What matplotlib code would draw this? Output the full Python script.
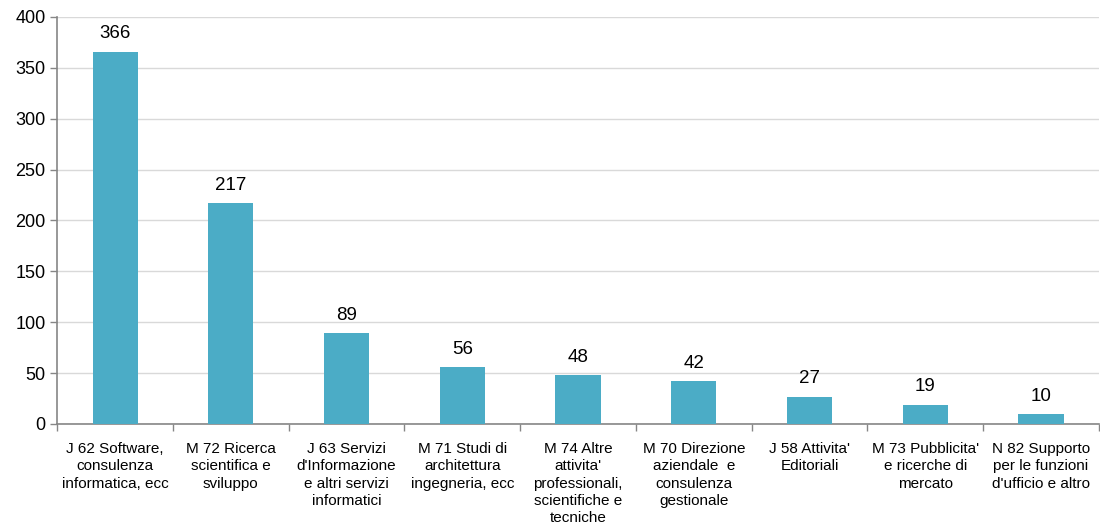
import matplotlib.pyplot as plt
import numpy as np

plt.rcParams['font.family'] = ['Liberation Sans', 'DejaVu Sans']

categories = [
    "J 62 Software,\nconsulenza\ninformatica, ecc",
    "M 72 Ricerca\nscientifica e\nsviluppo",
    "J 63 Servizi\nd'Informazione\ne altri servizi\ninformatici",
    "M 71 Studi di\narchitettura\ningegneria, ecc",
    "M 74 Altre\nattivita'\nprofessionali,\nscientifiche e\ntecniche",
    "M 70 Direzione\naziendale  e\nconsulenza\ngestionale",
    "J 58 Attivita'\nEditoriali",
    "M 73 Pubblicita'\ne ricerche di\nmercato",
    "N 82 Supporto\nper le funzioni\nd'ufficio e altro",
]
values = [366, 217, 89, 56, 48, 42, 27, 19, 10]
yticks = [0, 50, 100, 150, 200, 250, 300, 350, 400]

fig = plt.figure(figsize=(11, 5.29), dpi=100)
ax = fig.add_axes([0.052, 0.1985, 0.947, 0.7695])

x = np.arange(len(values))
bars = ax.bar(x, values, width=0.39, color='#4BACC6', zorder=3)
for b, v in zip(bars, values):
    ax.text(b.get_x() + b.get_width() / 2, v + 9, str(v), ha='center', va='bottom', fontsize=13.5)

ax.set_xlim(-0.5, len(values) - 0.5)
ax.set_ylim(0, 400)
ax.set_yticks(yticks)
ax.tick_params(axis='y', labelsize=13, length=5, color='#868686', width=1)
ax.yaxis.grid(True, color='#D9D9D9', linewidth=1, zorder=0)

ax.set_xticks(x)
ax.set_xticklabels(categories, fontsize=11, linespacing=1.3)
ax.tick_params(axis='x', length=0, pad=13)
ax.set_xticks(np.arange(len(values) + 1) - 0.5, minor=True)
ax.tick_params(axis='x', which='minor', length=5, color='#868686', width=1)

for s in ['top', 'right']:
    ax.spines[s].set_visible(False)
for s in ['left', 'bottom']:
    ax.spines[s].set_color('#868686')
    ax.spines[s].set_linewidth(1.2)

fig.savefig('out.png', dpi=100)
